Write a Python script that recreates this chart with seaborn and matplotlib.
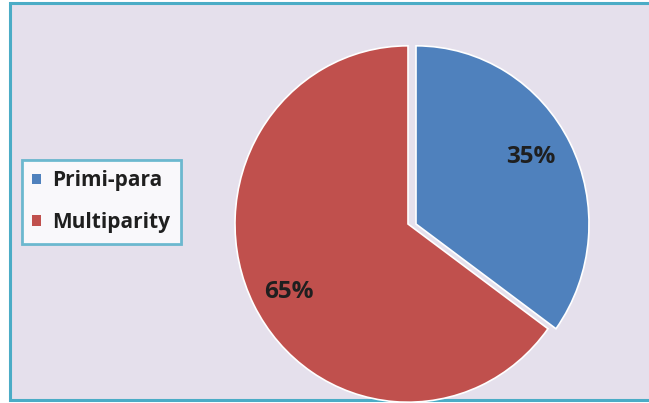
import matplotlib
matplotlib.use("Agg")
import matplotlib.pyplot as plt
from matplotlib.patches import Rectangle
import seaborn as sns
import numpy as np

categories = ["Primi-para", "Multiparity"]
shares = [35, 65]
pct_labels = ["35%", "65%"]

sns.set_theme(style="white")
plt.rcParams["font.family"] = ["Open Sans", "DejaVu Sans"]

colors = ["#4F81BD", "#C0504D"]
teal = "#4BACC6"
panel = "#E5E0EC"

W, H = 649, 403
yscale = 1.03  # pie is drawn slightly taller than wide
fig = plt.figure(figsize=(W / 100, H / 100), dpi=100)
fig.patch.set_facecolor("white")
ax = fig.add_axes([0, 0, 1, 1])

Hd = H / yscale
# chart area panel with teal outline
ax.add_patch(Rectangle((10, 3 / yscale), W + 20, (H - 6) / yscale,
                       facecolor=panel, edgecolor=teal, linewidth=2.2,
                       zorder=0))

cx, cy, r = 408, (H - 224) / yscale, 173
wedges, _ = ax.pie(
    shares,
    colors=colors,
    startangle=90,
    counterclock=False,
    center=(cx, cy),
    radius=r,
    wedgeprops=dict(edgecolor="white", linewidth=1.2),
    frame=True,
)
# pull the smaller slice out to the right
wedges[0].set_center((cx + 8, cy))
ax.set_aspect("auto")
ax.set_xlim(0, W)
ax.set_ylim(0, Hd)
ax.axis("off")

# percentage labels placed along each wedge's bisector
dists = [0.76, 0.79]
angle_shift = [2.5, 2]
for w, lab, d, s in zip(wedges, pct_labels, dists, angle_shift):
    mid = np.deg2rad((w.theta1 + w.theta2) / 2 + s)
    wx, wy = w.center
    ax.text(wx + d * r * np.cos(mid), wy + d * r * np.sin(mid), lab,
            ha="center", va="center", fontsize=17.5, fontweight="bold",
            color="#1F1F1F")

leg = ax.legend(
    wedges, categories,
    loc="upper left",
    bbox_to_anchor=(22 / W, 1 - 160 / H),
    bbox_transform=fig.transFigure,
    borderaxespad=0,
    frameon=True,
    fancybox=False,
    handlelength=0.42,
    handleheight=0.42,
    handletextpad=0.55,
    labelspacing=1.0,
    borderpad=0.5,
    prop=dict(size=15, weight="bold"),
)
frame = leg.get_frame()
frame.set_edgecolor(teal)
frame.set_linewidth(2.0)
frame.set_facecolor("white")
for t in leg.get_texts():
    t.set_color("#1F1F1F")
for h in leg.legend_handles:
    h.set_edgecolor("none")

fig.savefig("out.png", dpi=100)
